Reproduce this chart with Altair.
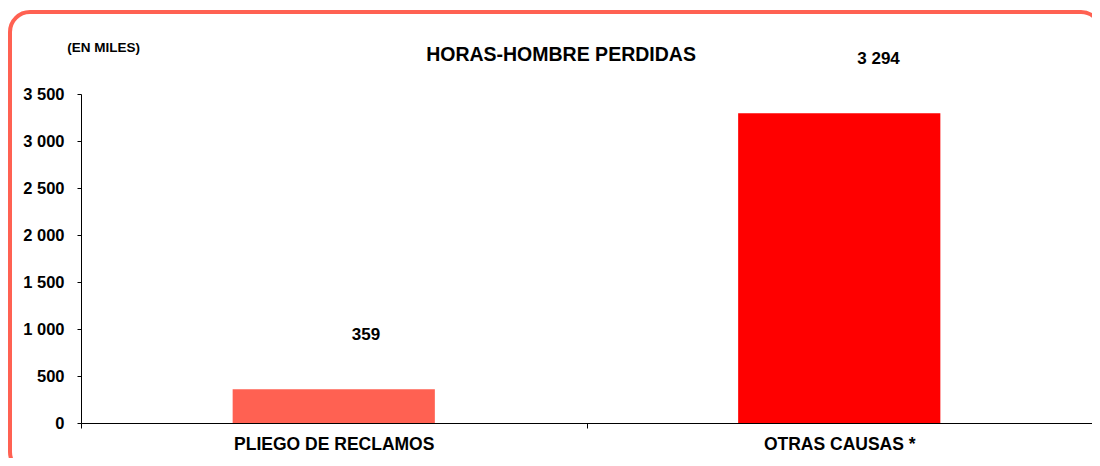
import altair as alt
import pandas as pd

categories = ["PLIEGO DE RECLAMOS", "OTRAS CAUSAS *"]
values = [359, 3294]
colors = ["#FF6152", "#FF0000"]
y_ticks = [0, 500, 1000, 1500, 2000, 2500, 3000, 3500]

labels = [f"{v:,}".replace(",", " ") for v in values]
df = pd.DataFrame({"cat": categories, "val": values, "label": labels, "color": colors})

FONT = "Liberation Sans"

x_enc = alt.X(
    "cat:N",
    sort=categories,
    title=None,
    scale=alt.Scale(paddingInner=0, paddingOuter=0),
    axis=alt.Axis(
        labelAngle=0, labelFont=FONT, labelFontSize=17.5, labelFontWeight="bold",
        labelColor="black", labelBaseline="middle", labelPadding=16,
        tickBand="extent", tickSize=5, tickColor="black", domainColor="black",
        grid=False, labelLimit=400,
    ),
)
y_enc = alt.Y(
    "val:Q",
    title=None,
    scale=alt.Scale(domain=[0, 3500], nice=False),
    axis=alt.Axis(
        values=y_ticks, labelFont=FONT, labelFontSize=16.5, labelFontWeight="bold",
        labelColor="black", labelPadding=13, tickSize=4, tickColor="black",
        domainColor="black", grid=False,
        labelExpr="replace(format(datum.value, ','), ',', ' ')",
    ),
)

base = alt.Chart(df)

bars = base.mark_bar(width=alt.RelativeBandSize(0.4)).encode(
    x=x_enc, y=y_enc, color=alt.Color("color:N", scale=None)
)

text = base.mark_text(
    align="left", baseline="middle", dx=18, dy=-54,
    font=FONT, fontSize=17, fontWeight="bold", color="black",
).encode(x=alt.X("cat:N", sort=categories), y="val:Q", text="label:N")

one = pd.DataFrame({"t": ["HORAS-HOMBRE PERDIDAS"], "s": ["(EN MILES)"]})

title = alt.Chart(one).mark_text(
    align="center", baseline="middle", font=FONT, fontSize=19.5,
    fontWeight="bold", color="black",
).encode(x=alt.value(480), y=alt.value(-39.5), text="t:N")

sub = alt.Chart(one).mark_text(
    align="center", baseline="middle", font=FONT, fontSize=13.5,
    fontWeight="bold", color="black",
).encode(x=alt.value(22.7), y=alt.value(-46.5), text="s:N")

border = alt.Chart(one).mark_rect(
    fill="transparent", stroke="#FF6152", strokeWidth=4, cornerRadius=20,
).encode(x=alt.value(-71), x2=alt.value(1020), y=alt.value(-82), y2=alt.value(378))

chart = alt.layer(border, bars, text, title, sub).properties(
    width=1011, height=329,
    autosize=alt.AutoSizeParams(type="none"),
    padding={"left": 73, "top": 86, "right": 0, "bottom": 35},
).configure(background="white", view=alt.ViewConfig(stroke=None))

chart.save("out.html", embed_options={"renderer": "svg", "actions": False})
